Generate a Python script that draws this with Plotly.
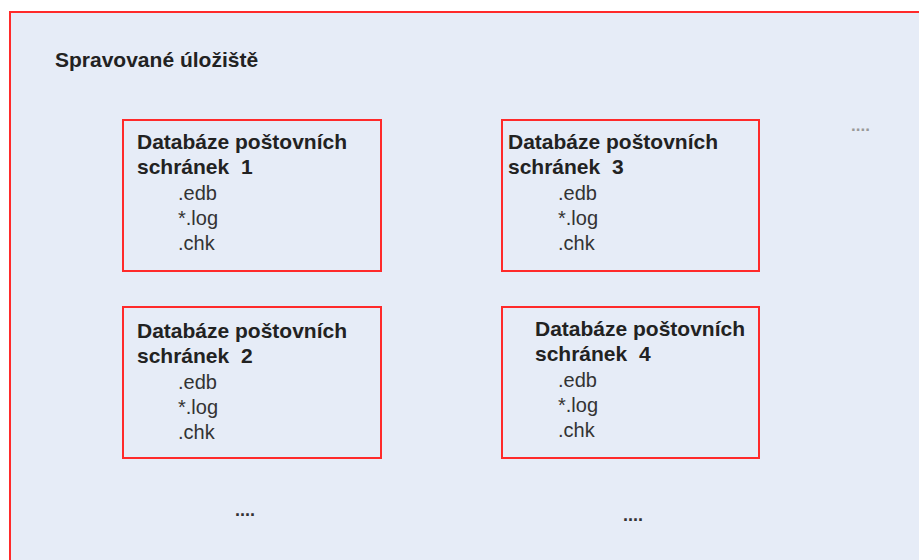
import plotly.graph_objects as go

# ---- content ----
title_text = "Spravované úložiště"
db_title = "Databáze poštovních"
db_sub = ["schránek  1", "schránek  3", "schránek  2", "schránek  4"]
db_files = [".edb", "*.log", ".chk"]
ellipsis = "...."

# ---- layout constants (pixels) ----
W, H = 919, 560
boxes = [  # x0, y0, x1, y1, title_x, files_x, title_y
    (123, 120, 381, 271, 135, 176, 141),
    (502, 120, 759, 271, 506, 556, 141),
    (123, 307, 381, 458, 135, 176, 330),
    (502, 307, 759, 458, 533, 556, 328),
]
file_dy = [52, 77, 102]
ellipsis_pos = [(849, 137, 17, "#999999"), (233, 522, 18, "#333333"), (621, 527, 18, "#333333")]

RED = "#FF2A2A"
FILL = "#E6ECF7"
FONT = "Liberation Sans, Arial, sans-serif"
FS = 21

fig = go.Figure()
fig.add_trace(go.Scatter(x=[0, W], y=[0, H], mode="markers", marker=dict(opacity=0), hoverinfo="skip", showlegend=False))

shapes = [dict(type="rect", x0=10, y0=12, x1=W + 20, y1=H + 20,
               line=dict(color=RED, width=2), fillcolor=FILL, layer="below")]
ann = [dict(x=53, y=59, text="<b>%s</b>" % title_text, showarrow=False, xanchor="left", yanchor="middle",
            font=dict(family=FONT, size=FS, color="#222222"))]

for (x0, y0, x1, y1, tx, fx, ty), sub in zip(boxes, db_sub):
    shapes.append(dict(type="rect", x0=x0, y0=y0, x1=x1, y1=y1, line=dict(color=RED, width=2),
                       fillcolor=FILL, layer="below"))
    ann.append(dict(x=tx, y=ty, text="<b>%s</b>" % db_title, showarrow=False, xanchor="left", yanchor="middle",
                    font=dict(family=FONT, size=FS, color="#222222")))
    ann.append(dict(x=tx, y=ty + 25, text="<b>%s</b>" % sub, showarrow=False, xanchor="left", yanchor="middle",
                    font=dict(family=FONT, size=FS, color="#222222")))
    for f, dy in zip(db_files, file_dy):
        ann.append(dict(x=fx, y=ty + dy, text=f, showarrow=False, xanchor="left", yanchor="middle",
                        font=dict(family=FONT, size=FS - 1, color="#333333")))

for x, y, s, c in ellipsis_pos:
    ann.append(dict(x=x, y=y, text="<b>%s</b>" % ellipsis, showarrow=False, xanchor="left", yanchor="bottom",
                    font=dict(family=FONT, size=s, color=c)))

fig.update_layout(
    width=W, height=H, margin=dict(l=0, r=0, t=0, b=0),
    paper_bgcolor="white", plot_bgcolor="white",
    xaxis=dict(range=[0, W], visible=False, fixedrange=True),
    yaxis=dict(range=[H, 0], visible=False, fixedrange=True),
    shapes=shapes, annotations=ann, showlegend=False,
)
fig.write_html("out.html", config={"displayModeBar": False},
               post_script="document.body.style.margin='0px';document.body.style.overflow='hidden';")
